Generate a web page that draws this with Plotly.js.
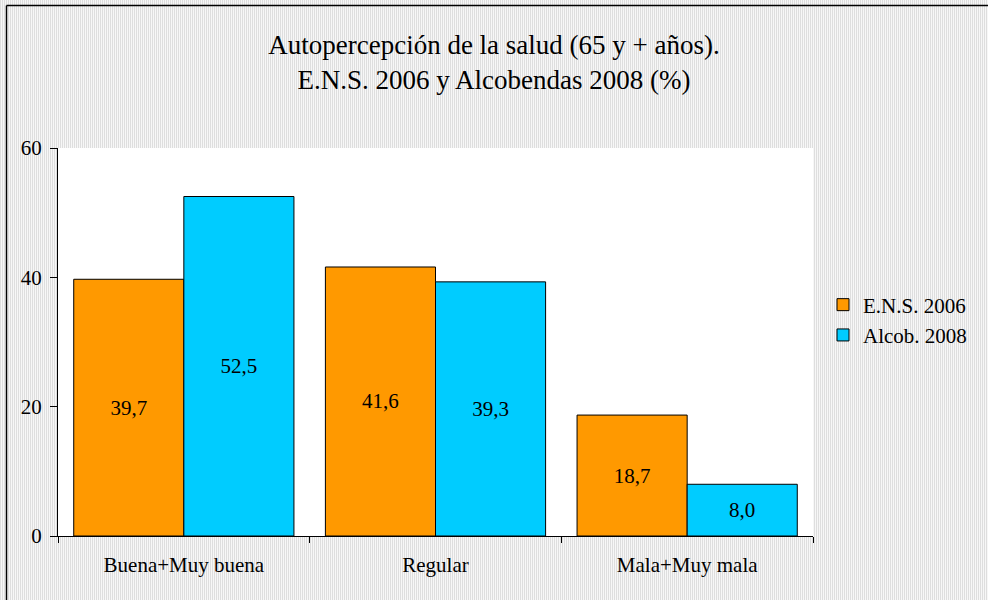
<!DOCTYPE html>
<html><head><meta charset="utf-8">
<script src="https://cdn.plot.ly/plotly-3.0.1.min.js"></script>
<style>body{margin:0;padding:0;}#chart{width:988px;height:600px;background:repeating-linear-gradient(90deg,#dedede 0 1px,#f7f7f7 1px 2px);}</style>
</head><body><div id="chart"></div>
<script>
const categories = ["Buena+Muy buena", "Regular", "Mala+Muy mala"];
const ens2006 = [39.7, 41.6, 18.7];
const alcob2008 = [52.5, 39.3, 8.0];
const seriesNames = ["E.N.S. 2006", "Alcob. 2008"];
const yTicks = [0, 20, 40, 60];

const font = "Liberation Serif, Times New Roman, serif";
const traces = [
  {type:"bar", name:seriesNames[0], legendgroup:"a", x:categories, y:ens2006,
   marker:{color:"#FF9900", line:{color:"#000", width:1}},
   texttemplate:"%{y:.1f}", textposition:"inside", insidetextanchor:"middle",
   textfont:{family:font, size:21, color:"#000"}},
  {type:"bar", name:seriesNames[1], legendgroup:"b", x:categories, y:alcob2008,
   marker:{color:"#00CCFF", line:{color:"#000", width:1}},
   texttemplate:"%{y:.1f}", textposition:"inside", insidetextanchor:"middle",
   textfont:{family:font, size:21, color:"#000"}}
];
const W = 755, H = 388;
const px = x => (x - 58) / W;
const py = y => (536 - y) / H;
const layout = {
  width:988, height:600,
  separators:",.",
  paper_bgcolor:"rgba(0,0,0,0)", plot_bgcolor:"#ffffff",
  font:{family:font, size:21, color:"#000"},
  margin:{l:58, r:175, t:148, b:64},
  barmode:"group", bargap:0.125, bargroupgap:0,
  title:{text:"Autopercepción de la salud (65 y + años).<br>E.N.S. 2006 y Alcobendas 2008 (%)",
    font:{family:font, size:27, color:"#000"}, xref:"container", x:0.5, xanchor:"center",
    yref:"container", y:1 - 54/600, yanchor:"middle"},
  xaxis:{showline:true, linecolor:"#000", linewidth:1, ticks:"outside", tickson:"boundaries",
    ticklen:6, tickcolor:"#000", showgrid:false, tickfont:{family:font, size:21},
    ticklabelstandoff:10},
  yaxis:{range:[0,60], tickvals:yTicks, showline:true, linecolor:"#000", linewidth:1,
    ticks:"outside", ticklen:7, tickcolor:"#000", showgrid:false, zeroline:false,
    tickfont:{family:font, size:21}, ticklabelstandoff:4},
  legend:{x:px(823), xanchor:"left", y:py(320), yanchor:"middle", bgcolor:"rgba(0,0,0,0)",
    font:{family:font, size:21}, itemwidth:30, tracegroupgap:0},
  shapes:[
    {type:"line", xref:"paper", yref:"paper", x0:px(6.5), x1:px(6.5), y0:py(600), y1:py(5.5),
     line:{color:"#000", width:1.5}},
    {type:"line", xref:"paper", yref:"paper", x0:px(6.5), x1:px(988), y0:py(5.5), y1:py(5.5),
     line:{color:"#000", width:1.5}}
  ],
  showlegend:true
};
Plotly.newPlot("chart", traces, layout, {displayModeBar:false});
</script></body></html>
